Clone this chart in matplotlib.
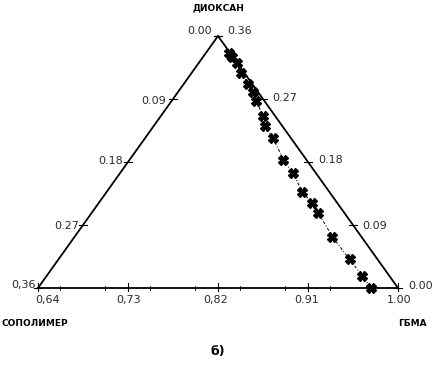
import matplotlib
matplotlib.use("Agg")
import matplotlib.pyplot as plt
import numpy as np

# Ternary data: ГБМА (bottom), ДИОКСАН (right edge), СОПОЛИМЕР (left edge)
gbma = [0.663, 0.669, 0.678, 0.690, 0.705, 0.715, 0.725, 0.742, 0.752, 0.768,
        0.794, 0.813, 0.836, 0.854, 0.867, 0.898, 0.931, 0.956, 0.973]
dioxane = [0.336, 0.330, 0.321, 0.307, 0.291, 0.280, 0.267, 0.246, 0.231, 0.214,
           0.183, 0.164, 0.137, 0.121, 0.107, 0.073, 0.041, 0.017, 0.000]

bottom_labels = ["0,64", "0,73", "0,82", "0.91", "1.00"]
left_labels = ["0,36", "0.27", "0.18", "0.09", "0.00"]
right_labels = ["0.00", "0.09", "0.18", "0.27", "0.36"]
vertex_names = ["СОПОЛИМЕР", "ГБМА", "ДИОКСАН"]
caption = "б)"

GMIN, SPAN = 0.64, 0.36


def to_xy(g, d):
    g = np.asarray(g, float)
    d = np.asarray(d, float)
    w_top = d / SPAN
    w_right = (g - GMIN) / SPAN
    x = w_right + 0.5 * w_top
    y = w_top
    return x, y


W, H = 439, 365
fig = plt.figure(figsize=(W / 100, H / 100), dpi=100)
L, R, B, T = 38, 398, 288, 36
ax = fig.add_axes([L / W, (H - B) / H, (R - L) / W, (B - T) / H])
ax.set_xlim(0, 1)
ax.set_ylim(0, 1)
ax.axis("off")


def px(xp, yp):
    return (xp - L) / (R - L), (B - yp) / (B - T)


# triangle
ax.plot([0, 1, 0.5, 0], [0, 0, 1, 0], color="black", lw=1.3, clip_on=False,
        solid_joinstyle="miter")

# ticks
tk = 0.012
for i in range(5):
    f = i / 4
    ax.plot([f, f], [-tk, tk * 1.5], color="black", lw=0.8, clip_on=False)
    lx, ly = 0.5 * f, f
    ax.plot([lx - 0.01, lx + 0.01], [ly, ly], color="black", lw=0.8, clip_on=False)
    rx, ry = 1 - 0.5 * f, f
    ax.plot([rx - 0.01, rx + 0.01], [ry, ry], color="black", lw=0.8, clip_on=False)
for i in range(9):
    f = i / 8 + 1 / 16
    if f < 1:
        ax.plot([f, f], [-tk * 0.6, tk * 0.6], color="black", lw=0.6, clip_on=False)

# data
x, y = to_xy(gbma, dioxane)
ax.plot(x, y, color="black", lw=0.7, linestyle=(0, (3, 2, 1, 2)), clip_on=False)
ax.plot(x, y, linestyle="none", marker="X", ms=7, color="black",
        markeredgecolor="black", clip_on=False)

tcol = "#2a2a2a"
fs = 8
bxs = [48, 129, 216, 307, 399]
for lab, bx in zip(bottom_labels, bxs):
    xx, yy = px(bx, 300)
    ax.text(xx, yy, lab, ha="center", va="center", fontsize=fs, color=tcol, clip_on=False)

lpos = [(36, 285), (79, 226), (123, 161), (166, 101), (212, 31)]
for lab, (lx_, ly_) in zip(left_labels, lpos):
    xx, yy = px(lx_, ly_)
    ax.text(xx, yy, lab, ha="right", va="center", fontsize=fs, color=tcol, clip_on=False)

rpos = [(408, 286), (362, 226), (318, 160), (272, 98), (227, 31)]
for lab, (rx_, ry_) in zip(right_labels, rpos):
    xx, yy = px(rx_, ry_)
    ax.text(xx, yy, lab, ha="left", va="center", fontsize=fs, color=tcol, clip_on=False)

for name, (vx, vy) in zip(vertex_names, [(35, 323), (412, 323), (218, 8)]):
    xx, yy = px(vx, vy)
    ax.text(xx, yy, name, ha="center", va="center", fontsize=6.5, fontweight="bold",
            color="black", clip_on=False)

xx, yy = px(218, 352)
ax.text(xx, yy, caption, ha="center", va="center", fontsize=9, fontweight="bold",
        color="black", clip_on=False)

fig.savefig("out.png", dpi=100)
